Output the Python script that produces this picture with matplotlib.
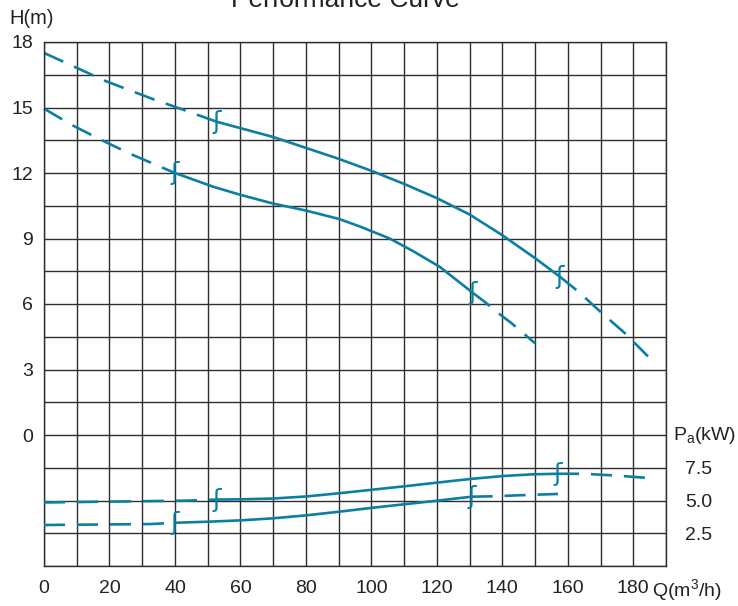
import numpy as np
import matplotlib
matplotlib.use("Agg")
import matplotlib.pyplot as plt

plt.rcParams['font.family'] = ['Liberation Sans', 'DejaVu Sans']
plt.rcParams['mathtext.fontset'] = 'custom'
plt.rcParams['mathtext.rm'] = 'Liberation Sans'
plt.rcParams['mathtext.it'] = 'Liberation Sans:italic'

# Head curve 1 (upper): dashed start, solid middle, dashed end
h1_q_a = [0, 19, 33, 42.5, 52.7]
h1_h_a = [17.5, 16.2, 15.4, 14.9, 14.35]
h1_q_b = [52.7, 70, 90, 100, 110, 120, 130, 140, 150, 157.6]
h1_h_b = [14.35, 13.65, 12.65, 12.1, 11.5, 10.85, 10.1, 9.15, 8.1, 7.25]
h1_q_c = [157.6, 163.2, 170.3, 177.4, 184.5]
h1_h_c = [7.25, 6.57, 5.6, 4.67, 3.6]

# Head curve 2 (lower)
h2_q_a = [0, 8.5, 17, 26, 40]
h2_h_a = [14.95, 14.2, 13.55, 12.9, 12.0]
h2_q_b = [40, 51.7, 60, 70, 80, 90, 96.5, 105.6, 113, 120.9, 131.1]
h2_h_b = [12.0, 11.37, 11.0, 10.6, 10.28, 9.9, 9.55, 9.0, 8.4, 7.7, 6.5]
h2_q_c = [131.1, 135.2, 138.2, 142.8, 145.9, 150]
h2_h_c = [6.5, 6.03, 5.65, 5.12, 4.73, 4.2]

# Power curve 1 (upper)
p1_q_a = [0, 25, 43.6, 52.7]
p1_p_a = [4.85, 4.93, 4.99, 5.07]
p1_q_b = [52.7, 60, 70, 80.2, 90.4, 100.5, 110.7, 119.9, 130.1, 140.3, 149.4, 157]
p1_p_b = [5.07, 5.09, 5.15, 5.31, 5.56, 5.83, 6.1, 6.36, 6.64, 6.87, 7.0, 7.04]
p1_q_c = [157, 165, 175, 184.5]
p1_p_c = [7.04, 7.04, 6.9, 6.72]

# Power curve 2 (lower)
p2_q_a = [0, 32.4, 40]
p2_p_a = [3.13, 3.2, 3.3]
p2_q_b = [40, 50, 59.8, 70, 80.2, 90, 100.5, 110.7, 119.9, 130.6]
p2_p_b = [3.3, 3.38, 3.48, 3.64, 3.87, 4.14, 4.45, 4.73, 4.98, 5.29]
p2_q_c = [130.6, 137.2, 145.3, 157]
p2_p_c = [5.29, 5.32, 5.4, 5.5]

# operating-range marks
mark_h_q = [52.7, 157.6, 40, 131.1]
mark_h_v = [14.35, 7.25, 12.0, 6.5]
mark_p_q = [52.7, 157, 40, 130.6]
mark_p_v = [5.07, 7.04, 3.3, 5.29]

x_ticks = np.arange(0, 191, 10)
x_labels = [str(v) if v % 20 == 0 and v <= 180 else '' for v in x_ticks]
h_ticks = np.arange(-6, 18.1, 1.5)
h_labels = [f"{v:.0f}" if v >= 0 and v % 3 == 0 else '' for v in h_ticks]
p_ticks = [2.5, 5.0, 7.5]
p_labels = ['2.5', '5.0', '7.5']

col = '#0b7fa2'
grid_col = '#2e2e2e'
txt = '#222222'

fig = plt.figure(figsize=(7.38, 6.06), dpi=100)
ax = fig.add_axes([44/738, 40/606, 622/738, 524/606])
ax2 = ax.twinx()

ax.set_xlim(0, 190)
ax.set_ylim(-6, 18)
ax2.set_ylim(0, 40)

ax.set_xticks(x_ticks)
ax.set_xticklabels(x_labels)
ax.set_yticks(h_ticks)
ax.set_yticklabels(h_labels)
ax.grid(True, color=grid_col, lw=1.0)
ax.tick_params(length=0, labelsize=14, labelcolor=txt)
ax.tick_params(axis='x', pad=10)
ax.tick_params(axis='y', pad=8)
for s in ax.spines.values():
    s.set_color(grid_col)
    s.set_linewidth(1.0)
for s in ax2.spines.values():
    s.set_visible(False)

ax2.set_yticks(p_ticks)
ax2.set_yticklabels(p_labels)
ax2.tick_params(length=0, labelsize=14, labelcolor=txt, pad=14)

lw = 1.9
dash = (0, (8, 4.5))
for axis, parts in [(ax, [(h1_q_a, h1_h_a, dash), (h1_q_b, h1_h_b, '-'), (h1_q_c, h1_h_c, dash),
                          (h2_q_a, h2_h_a, dash), (h2_q_b, h2_h_b, '-'), (h2_q_c, h2_h_c, dash)]),
                    (ax2, [(p1_q_a, p1_p_a, dash), (p1_q_b, p1_p_b, '-'), (p1_q_c, p1_p_c, dash),
                           (p2_q_a, p2_p_a, dash), (p2_q_b, p2_p_b, '-'), (p2_q_c, p2_p_c, dash)])]:
    for q, v, ls in parts:
        axis.plot(q, v, color=col, lw=lw, linestyle=ls, solid_capstyle='butt', clip_on=False)

for q, v in zip(mark_h_q, mark_h_v):
    ax.text(q, v, 'ʃ', color=col, fontsize=18, ha='center', va='center', family='DejaVu Sans')
for q, v in zip(mark_p_q, mark_p_v):
    ax2.text(q, v, 'ʃ', color=col, fontsize=18, ha='center', va='center', family='DejaVu Sans')

fig.text(345/738, 1 - 7/606, 'Performance Curve', ha='center', va='baseline', fontsize=19, color=txt)
fig.text(9/738, 1 - 18/606, 'H(m)', ha='left', va='center', fontsize=14.5, color=txt)
fig.text(652/738, 1 - 590/606, 'Q(m$^3$/h)', ha='left', va='center', fontsize=14, color=txt)
fig.text(673/738, 1 - 435/606, 'P$_\\mathrm{a}$(kW)', ha='left', va='center', fontsize=14, color=txt)

fig.savefig('out.png', dpi=100)
